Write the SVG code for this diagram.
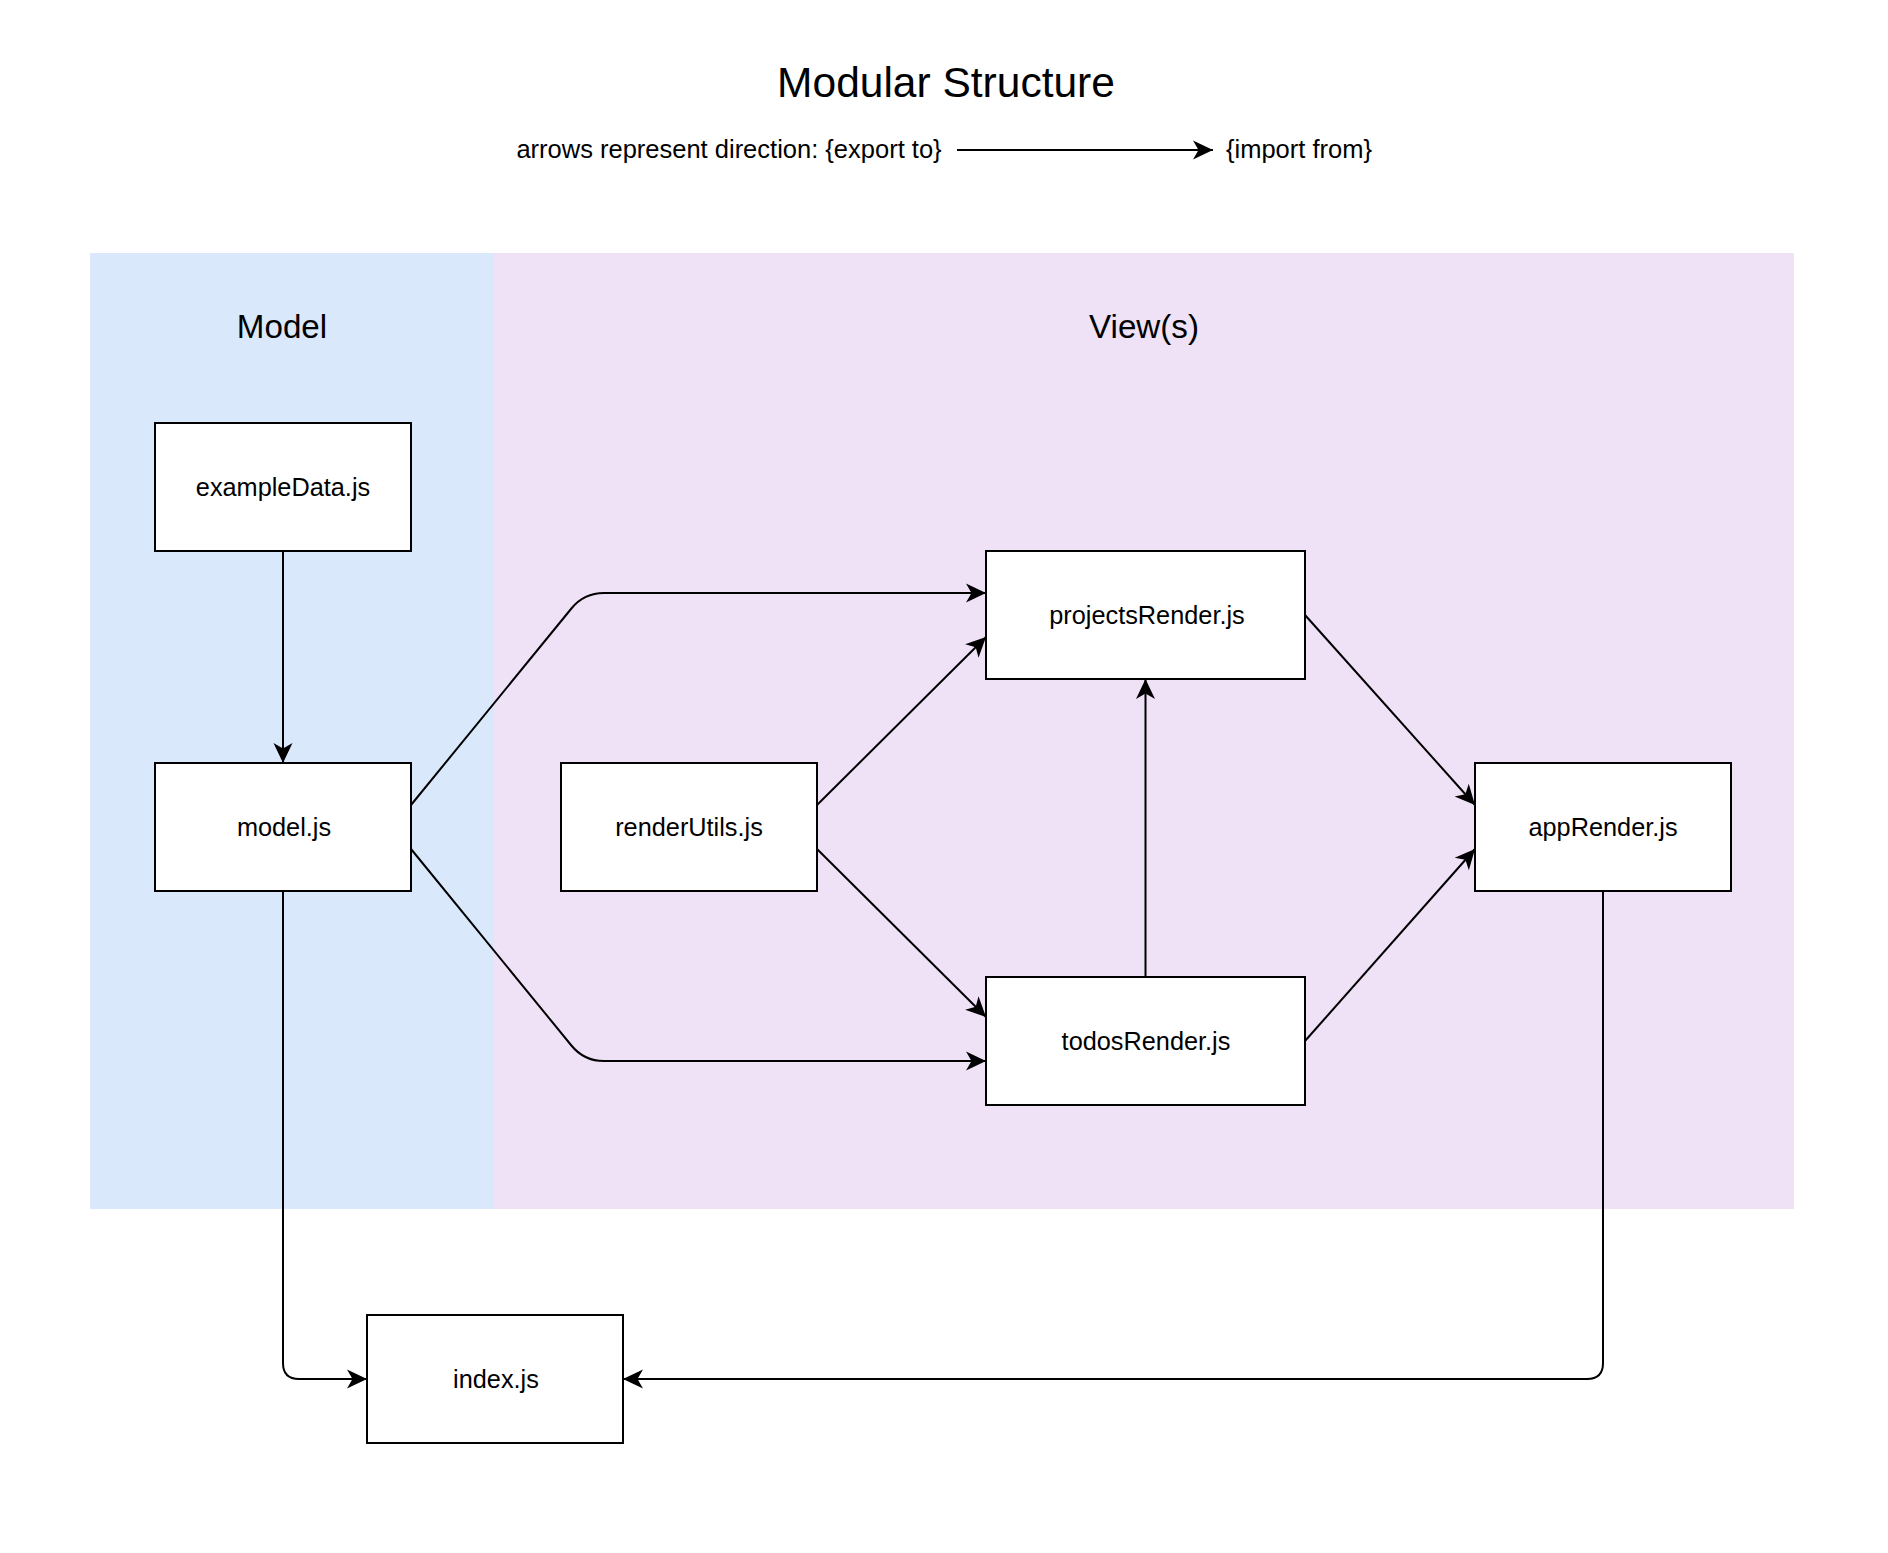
<svg xmlns="http://www.w3.org/2000/svg" width="1888" height="1553" viewBox="0 0 1888 1553">
<style>
.node rect{fill:#ffffff;stroke:#000000;stroke-width:2}
.lbl{font-family:"Liberation Sans",Arial,sans-serif;font-size:25.3px;fill:#000000;text-anchor:middle}
.sub{font-family:"Liberation Sans",Arial,sans-serif;font-size:25.5px;fill:#000000;text-anchor:middle}
.hdr{font-family:"Liberation Sans",Arial,sans-serif;font-size:33.2px;fill:#000000;text-anchor:middle}
.ttl{font-family:"Liberation Sans",Arial,sans-serif;font-size:42.5px;fill:#000000;text-anchor:middle}
.edge{fill:none;stroke:#000000;stroke-width:2;marker-end:url(#arr)}
</style>
<defs>
<marker id="arr" markerUnits="userSpaceOnUse" markerWidth="22" markerHeight="22" viewBox="0 0 22 22" refX="21" refY="11" orient="auto">
<path d="M1,1.5 L21,11 L1,20.5 L6.5,11 Z" fill="#000000"/>
</marker>
</defs>
<rect x="0" y="0" width="1888" height="1553" fill="#ffffff"/>
<g id="title">
<text class="ttl" x="946" y="97">Modular Structure</text>
<text class="sub" x="729" y="158">arrows represent direction: {export to}</text>
<text class="sub" x="1299" y="158">{import from}</text>
</g>
<g id="model-lane">
<rect x="90" y="253" width="404" height="956" fill="#dae8fc"/>
<text class="hdr" x="282" y="338">Model</text>
</g>
<g id="views-lane">
<rect x="494" y="253" width="1300" height="956" fill="#efe2f6"/>
<text class="hdr" x="1144" y="338">View(s)</text>
</g>
<g id="connectors">
<path class="edge" d="M957,150 L1213,150"/>
<path class="edge" d="M283,551 L283,763"/>
<path class="edge" d="M411,805 L571.4,608.5 Q584,593 604,593 L986,593"/>
<path class="edge" d="M411,849 L571.4,1045.5 Q584,1061 604,1061 L986,1061"/>
<path class="edge" d="M817,805 L986,637"/>
<path class="edge" d="M817,849 L986,1017"/>
<path class="edge" d="M1145.5,977 L1145.5,679"/>
<path class="edge" d="M1305,615 L1475,805"/>
<path class="edge" d="M1305,1041 L1475,849"/>
<path class="edge" d="M1603,891 L1603,1363 Q1603,1379 1587,1379 L623,1379"/>
<path class="edge" d="M283,891 L283,1363 Q283,1379 299,1379 L367,1379"/>
</g>
<g id="exampleData" class="node">
<rect x="155" y="423" width="256" height="128"/>
<text class="lbl" x="283" y="496">exampleData.js</text>
</g>
<g id="model" class="node">
<rect x="155" y="763" width="256" height="128"/>
<text class="lbl" x="284" y="836">model.js</text>
</g>
<g id="renderUtils" class="node">
<rect x="561" y="763" width="256" height="128"/>
<text class="lbl" x="689" y="836">renderUtils.js</text>
</g>
<g id="projectsRender" class="node">
<rect x="986" y="551" width="319" height="128"/>
<text class="lbl" x="1147" y="624">projectsRender.js</text>
</g>
<g id="todosRender" class="node">
<rect x="986" y="977" width="319" height="128"/>
<text class="lbl" x="1146" y="1050">todosRender.js</text>
</g>
<g id="appRender" class="node">
<rect x="1475" y="763" width="256" height="128"/>
<text class="lbl" x="1603" y="836">appRender.js</text>
</g>
<g id="index" class="node">
<rect x="367" y="1315" width="256" height="128"/>
<text class="lbl" x="496" y="1388">index.js</text>
</g>
</svg>
